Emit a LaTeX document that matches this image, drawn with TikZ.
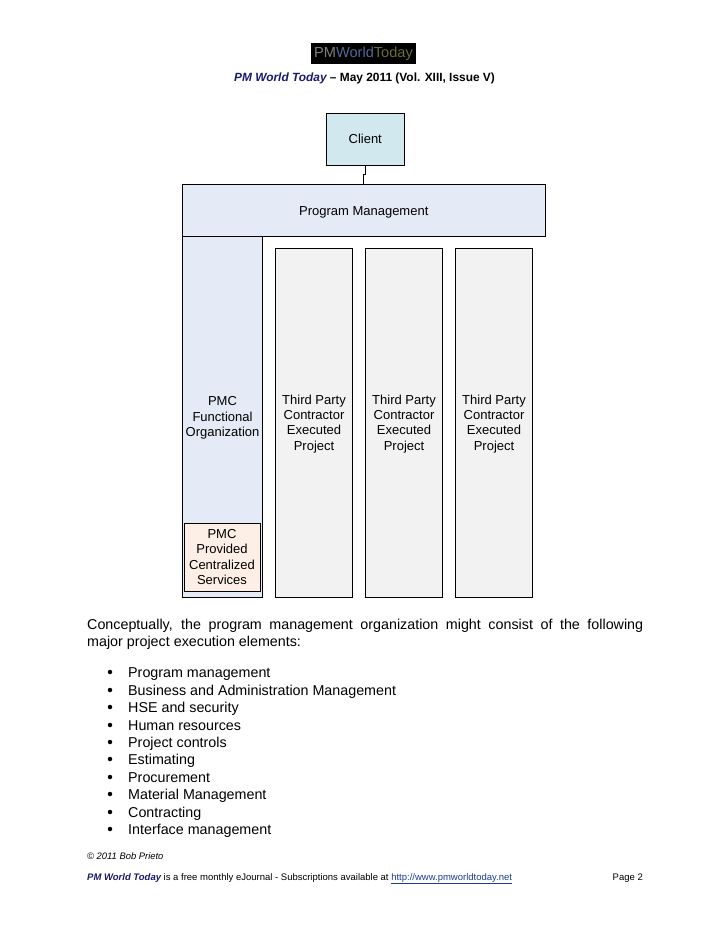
\documentclass[tikz,border=0pt]{standalone}
\usepackage{fontspec}
\setmainfont{Liberation Sans}
\usetikzlibrary{positioning,calc}
\definecolor{clientfill}{RGB}{210,232,239}
\definecolor{progfill}{RGB}{228,235,246}
\definecolor{thirdfill}{RGB}{242,242,242}
\definecolor{centralfill}{RGB}{253,239,229}
\definecolor{journal}{RGB}{25,25,110}
\definecolor{linkblue}{RGB}{30,60,150}
\definecolor{logoblue}{RGB}{80,105,150}
\definecolor{logogreen}{RGB}{105,110,50}
\newcommand{\boxfont}{\fontsize{13}{15.2}\selectfont}
\newcommand{\bodyfont}{\fontsize{14.3}{17.4}\selectfont}
\newcommand{\footfont}{\fontsize{9.5}{12}\selectfont}
\tikzset{
  orgbox/.style={draw=black,line width=0.9pt,align=center,font=\boxfont,inner sep=0pt},
  projbox/.style={orgbox,fill=thirdfill,minimum width=77.5pt,minimum height=349pt,text depth=0pt},
  bullitem/.style={anchor=base west,font=\bodyfont,inner sep=0pt},
  bulldot/.style={circle,fill=black,inner sep=0pt,minimum size=4.5pt}
}
\begin{document}
\begin{tikzpicture}[x=1pt,y=-1pt]
\useasboundingbox (0,0) rectangle (728,943);
% ================= HEADER =================
\node[fill=black,minimum width=105pt,minimum height=21pt,inner sep=0pt,
      font=\fontsize{14.6}{15}\selectfont] (logo) at (363.5,53.5)
  {\textcolor{gray}{PM}\textcolor{logoblue}{World}\textcolor{logogreen}{Today}};
\node[font=\fontsize{11.9}{14}\selectfont\bfseries,inner sep=0pt] (issue) at (364.5,78)
  {\textcolor{journal}{\itshape PM World Today} -- May 2011 (Vol. XIII, Issue V)};
% ================= CHART =================
\node[orgbox,fill=clientfill,minimum width=78.5pt,minimum height=52pt] (client) at (365.25,139) {Client};
\node[orgbox,fill=progfill,minimum width=363.5pt,minimum height=52pt,text height=10pt,text depth=0pt] (prog) at (363.75,210) {Program Management};
\node[orgbox,fill=progfill,minimum width=80pt,minimum height=361pt,text depth=0pt] (pmc) at (222.5,416.5)
  {PMC\\Functional\\Organization};
\node[orgbox,fill=centralfill,minimum width=76pt,minimum height=68pt] (central) at (222,557)
  {PMC\\Provided\\Centralized\\Services};
% three contractor columns
\foreach \n/\x in {one/314,two/404,three/494}
  \node[projbox] (third\n) at (\x,422.5) {Third Party\\Contractor\\Executed\\Project};
\draw[line width=0.9pt] (client.south) -- ++(0,9) coordinate (jog) -| (prog.north);
% ================= BODY TEXT =================
\node[anchor=north west,text width=556pt,align=justify,font=\bodyfont,inner sep=0pt] (intro) at (87,619)
  {Conceptually, the program management organization might consist of the following\linebreak major project execution elements:};
\foreach \i/\y/\lab in {a/677/Program management,b/695/Business and Administration Management,
    c/712/HSE and security,d/730/Human resources,e/747/Project controls,f/764/Estimating,
    g/782/Procurement,h/799/Material Management,i/817/Contracting,j/834/Interface management}{
  \node[bullitem] (item\i) at (128,\y) {\lab};
  \node[bulldot] (dot\i) at (110,\y-5) {};
}
% ================= FOOTER =================
\node[anchor=base west,inner sep=0pt,font=\fontsize{9.4}{11}\selectfont\itshape] (copy) at (87,859) {© 2011 Bob Prieto};
\node[anchor=base west,inner sep=0pt,font=\footfont] (foot) at (87,880)
  {\textcolor{journal}{\bfseries\itshape PM World Today} is a free monthly eJournal - Subscriptions available at \textcolor{linkblue}{\underline{http://www.pmworldtoday.net}}};
\node[anchor=base east,inner sep=0pt,font=\footfont] (page) at (643,880) {Page 2};
\end{tikzpicture}
\end{document}
